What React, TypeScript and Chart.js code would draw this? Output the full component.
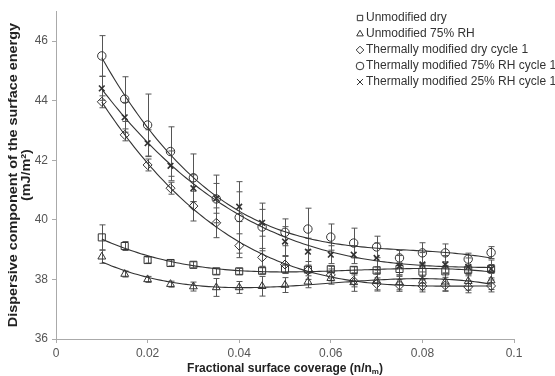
import React, { useEffect, useRef } from 'react';
import { Chart, registerables } from 'chart.js';

Chart.register(...registerables);

const coverage = [0.01, 0.015, 0.02, 0.025, 0.03, 0.035, 0.04, 0.045, 0.05, 0.055, 0.06, 0.065, 0.07, 0.075, 0.08, 0.085, 0.09, 0.095];

const unmodDry = [39.41, 39.12, 38.65, 38.55, 38.49, 38.27, 38.27, 38.29, 38.36, 38.33, 38.34, 38.32, 38.3, 38.35, 38.26, 38.27, 38.32, 38.35];
const unmodDryErr = [0.42, 0.15, 0.1, 0.1, 0.1, 0.1, 0.1, 0.1, 0.15, 0.1, 0.1, 0.1, 0.12, 0.2, 0.25, 0.2, 0.15, 0.15];

const unmod75 = [38.76, 38.18, 38.0, 37.84, 37.76, 37.73, 37.73, 37.77, 37.81, 37.92, 38.04, 37.9, 37.96, 37.9, 37.95, 37.92, 37.94, 37.96];
const unmod75Err = [0.22, 0.1, 0.1, 0.1, 0.15, 0.3, 0.2, 0.33, 0.25, 0.2, 0.2, 0.3, 0.35, 0.25, 0.3, 0.3, 0.3, 0.3];

const thermDry = [43.96, 42.85, 41.84, 41.06, 40.46, 39.9, 39.13, 38.74, 38.5, 38.3, 38.15, 37.95, 37.85, 37.8, 37.78, 37.8, 37.75, 37.78];
const thermDryErr = [0.2, 0.2, 0.2, 0.2, 0.5, 0.5, 0.4, 0.3, 0.3, 0.3, 0.2, 0.2, 0.2, 0.2, 0.2, 0.2, 0.2, 0.2];

const therm75 = [45.5, 44.05, 43.18, 42.29, 41.41, 40.7, 40.08, 39.76, 39.58, 39.69, 39.42, 39.22, 39.09, 38.72, 38.89, 38.89, 38.68, 38.9];
const therm75Err = [0.68, 0.75, 1.04, 0.83, 0.8, 0.8, 1.2, 0.8, 0.45, 0.7, 0.44, 0.5, 0.36, 0.25, 0.34, 0.3, 0.2, 0.2];

const therm25 = [44.41, 43.44, 42.57, 41.81, 41.06, 40.72, 40.44, 39.9, 39.27, 38.93, 38.83, 38.83, 38.72, 38.45, 38.5, 38.5, 38.42, 38.35];
const therm25Err = [0.4, 0.5, 0.45, 0.5, 0.45, 0.5, 0.5, 0.45, 0.5, 0.45, 0.3, 0.3, 0.5, 0.35, 0.4, 0.3, 0.3, 0.3];

const seriesLabels = [
  'Unmodified dry',
  'Unmodified 75% RH',
  'Thermally modified dry cycle 1',
  'Thermally modified 75% RH cycle 1',
  'Thermally modified 25% RH cycle 1',
];
const seriesValues = [unmodDry, unmod75, thermDry, therm75, therm25];
const seriesErrors = [unmodDryErr, unmod75Err, thermDryErr, therm75Err, therm25Err];
const seriesStyles = ['rect', 'triangle', 'rectRot', 'circle', 'crossRot'];
const seriesRadius = [5, 4.5, 4.5, 4.2, 4];

const xTicks = [0, 0.02, 0.04, 0.06, 0.08, 0.1];
const yTicks = [36, 38, 40, 42, 44, 46];

const yTitle = ['Dispersive component of the surface energy', '(mJ/m²)'];
const xTitleMain = 'Fractional surface coverage (n/n';
const xTitleSub = 'm';
const xTitleEnd = ')';

const FONT = "'Liberation Sans', Arial, sans-serif";
const INK = '#333';

function polyFit(xs: number[], ys: number[], order: number): number[] {
  const n = order + 1;
  const A: number[][] = Array.from({ length: n }, () => new Array(n + 1).fill(0));
  for (let i = 0; i < xs.length; i++) {
    const t = xs[i] * 100;
    for (let r = 0; r < n; r++) {
      for (let c = 0; c < n; c++) A[r][c] += Math.pow(t, r + c);
      A[r][n] += ys[i] * Math.pow(t, r);
    }
  }
  for (let col = 0; col < n; col++) {
    let piv = col;
    for (let r = col + 1; r < n; r++) if (Math.abs(A[r][col]) > Math.abs(A[piv][col])) piv = r;
    const tmp = A[col]; A[col] = A[piv]; A[piv] = tmp;
    for (let r = 0; r < n; r++) {
      if (r === col) continue;
      const f = A[r][col] / A[col][col];
      for (let c = col; c <= n; c++) A[r][c] -= f * A[col][c];
    }
  }
  return A.map((row, i) => row[n] / row[i]);
}

function drawMarker(ctx: CanvasRenderingContext2D, style: string, x: number, y: number, r: number) {
  ctx.beginPath();
  if (style === 'rect') {
    const s = r * Math.SQRT1_2;
    ctx.rect(x - s, y - s, 2 * s, 2 * s);
  } else if (style === 'triangle') {
    ctx.moveTo(x, y - r);
    ctx.lineTo(x + r * 0.866, y + r * 0.5);
    ctx.lineTo(x - r * 0.866, y + r * 0.5);
    ctx.closePath();
  } else if (style === 'rectRot') {
    ctx.moveTo(x, y - r);
    ctx.lineTo(x + r, y);
    ctx.lineTo(x, y + r);
    ctx.lineTo(x - r, y);
    ctx.closePath();
  } else if (style === 'circle') {
    ctx.arc(x, y, r, 0, Math.PI * 2);
  } else {
    const s = r * 0.8;
    ctx.moveTo(x - s, y - s); ctx.lineTo(x + s, y + s);
    ctx.moveTo(x + s, y - s); ctx.lineTo(x - s, y + s);
  }
  ctx.stroke();
}

const decorPlugin = {
  id: 'decor',
  beforeDatasetsDraw(chart: any) {
    const ctx: CanvasRenderingContext2D = chart.ctx;
    const xs = chart.scales.x;
    const ys = chart.scales.y;
    ctx.save();
    // error bars
    ctx.strokeStyle = '#555';
    ctx.lineWidth = 1;
    seriesValues.forEach((vals, i) => {
      const errs = seriesErrors[i];
      vals.forEach((v, j) => {
        const px = Math.round(xs.getPixelForValue(coverage[j])) + 0.5;
        const top = ys.getPixelForValue(v + errs[j]);
        const bot = ys.getPixelForValue(v - errs[j]);
        ctx.beginPath();
        ctx.moveTo(px, top); ctx.lineTo(px, bot);
        ctx.moveTo(px - 3, top); ctx.lineTo(px + 3, top);
        ctx.moveTo(px - 3, bot); ctx.lineTo(px + 3, bot);
        ctx.stroke();
      });
    });
    // trend lines (polynomial regression of each series)
    ctx.strokeStyle = INK;
    ctx.lineWidth = 1.1;
    const x0 = coverage[0];
    const x1 = coverage[coverage.length - 1];
    seriesValues.forEach((vals) => {
      const coef = polyFit(coverage, vals, 3);
      ctx.beginPath();
      const steps = 120;
      for (let k = 0; k <= steps; k++) {
        const xv = x0 + ((x1 - x0) * k) / steps;
        const t = xv * 100;
        let yv = 0;
        for (let p = 0; p < coef.length; p++) yv += coef[p] * Math.pow(t, p);
        const px = xs.getPixelForValue(xv);
        const py = ys.getPixelForValue(yv);
        if (k === 0) ctx.moveTo(px, py); else ctx.lineTo(px, py);
      }
      ctx.stroke();
    });
    ctx.restore();
  },
  afterDraw(chart: any) {
    const ctx: CanvasRenderingContext2D = chart.ctx;
    const area = chart.chartArea;
    ctx.save();
    // legend
    ctx.font = `12px ${FONT}`;
    ctx.textBaseline = 'middle';
    ctx.textAlign = 'left';
    seriesLabels.forEach((label, i) => {
      const y = 18 + i * 16;
      ctx.strokeStyle = INK;
      ctx.lineWidth = 1;
      drawMarker(ctx, seriesStyles[i], 360, y, 3.8);
      ctx.fillStyle = '#333';
      ctx.fillText(label, 366, y);
    });
    // y title (stretched along its length like the reference)
    ctx.fillStyle = '#222';
    ctx.font = `bold 12px ${FONT}`;
    ctx.textAlign = 'center';
    const cy = (area.top + area.bottom) / 2;
    [14, 27].forEach((x, i) => {
      ctx.save();
      ctx.translate(x, cy);
      ctx.rotate(-Math.PI / 2);
      ctx.scale(1.2, 1);
      ctx.fillText(yTitle[i], 0, 0);
      ctx.restore();
    });
    // x title with subscript
    ctx.textAlign = 'left';
    const wMain = ctx.measureText(xTitleMain).width;
    const wEnd = ctx.measureText(xTitleEnd).width;
    ctx.font = `bold 8px ${FONT}`;
    const wSub = ctx.measureText(xTitleSub).width;
    const total = wMain + wSub + wEnd;
    const cx = (area.left + area.right) / 2;
    let sx = cx - total / 2;
    const ty = 369;
    ctx.font = `bold 12px ${FONT}`;
    ctx.fillText(xTitleMain, sx, ty);
    sx += wMain;
    ctx.font = `bold 8px ${FONT}`;
    ctx.fillText(xTitleSub, sx, ty + 3);
    sx += wSub;
    ctx.font = `bold 12px ${FONT}`;
    ctx.fillText(xTitleEnd, sx, ty);
    ctx.restore();
  },
};

export default function App() {
  const ref = useRef<HTMLCanvasElement | null>(null);
  useEffect(() => {
    document.body.style.margin = '0';
    const canvas = ref.current;
    if (!canvas) return;
    const datasets = seriesValues.map((vals, i) => ({
      label: seriesLabels[i],
      data: vals.map((v, j) => ({ x: coverage[j], y: v })),
      showLine: false,
      pointStyle: seriesStyles[i] as any,
      pointRadius: seriesRadius[i],
      pointHoverRadius: seriesRadius[i],
      borderColor: INK,
      backgroundColor: 'rgba(255,255,255,0)',
      pointBorderWidth: seriesStyles[i] === 'crossRot' ? 1.6 : 1,
    }));
    const chart = new Chart(canvas, {
      type: 'scatter',
      data: { datasets },
      plugins: [decorPlugin],
      options: {
        animation: false,
        responsive: false,
        layout: { padding: { left: 0, right: 41, top: 11, bottom: 0 } },
        plugins: { legend: { display: false }, tooltip: { enabled: false } },
        scales: {
          x: {
            type: 'linear',
            min: 0,
            max: 0.1,
            afterFit: (s: any) => { s.height = 37; },
            afterBuildTicks: (s: any) => { s.ticks = xTicks.map((v) => ({ value: v })); },
            ticks: {
              font: { family: FONT, size: 12 },
              color: '#555',
              padding: 3,
              maxRotation: 0,
              callback: (v: any) => String(Math.round(Number(v) * 100) / 100),
            },
            grid: { drawOnChartArea: false, drawTicks: true, tickLength: 4, color: '#aaa' },
            border: { color: '#aaa', width: 1 },
          },
          y: {
            type: 'linear',
            min: 36,
            max: 47,
            afterFit: (s: any) => { s.width = 56; },
            afterBuildTicks: (s: any) => { s.ticks = yTicks.map((v) => ({ value: v })); },
            ticks: {
              font: { family: FONT, size: 12 },
              color: '#555',
              padding: 4,
            },
            grid: { drawOnChartArea: false, drawTicks: true, tickLength: 4, color: '#aaa' },
            border: { color: '#aaa', width: 1 },
          },
        },
      },
    });
    return () => chart.destroy();
  }, []);
  return (
    <div style={{ width: 555, height: 376 }}>
      <canvas ref={ref} width={555} height={376} style={{ display: 'block' }} />
    </div>
  );
}
